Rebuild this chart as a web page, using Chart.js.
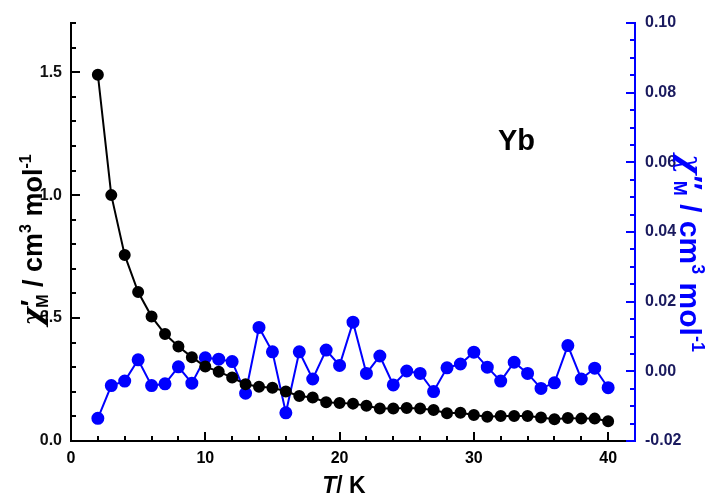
<!DOCTYPE html>
<html>
<head>
<meta charset="utf-8">
<script src="https://cdn.jsdelivr.net/npm/chart.js@4.4.0/dist/chart.umd.min.js"></script>
<style>
  body { margin: 0; background: #fff; }
  #wrap { width: 709px; height: 495px; }
</style>
</head>
<body>
<div id="wrap"><canvas id="chi-chart" width="709" height="495"></canvas></div>
<script>
// Temperaturas (K)
const temps = [2, 3, 4, 5, 6, 7, 8, 9, 10, 11, 12, 13, 14, 15, 16, 17, 18, 19, 20, 21,
               22, 23, 24, 25, 26, 27, 28, 29, 30, 31, 32, 33, 34, 35, 36, 37, 38, 39, 40];

// chi' (eixo esquerdo)
const chiReal = [1.49, 1.00, 0.756, 0.606, 0.506, 0.435, 0.384, 0.341, 0.303, 0.282,
                 0.258, 0.231, 0.221, 0.217, 0.201, 0.183, 0.177, 0.158, 0.155, 0.152,
                 0.143, 0.132, 0.132, 0.134, 0.132, 0.126, 0.113, 0.115, 0.106, 0.099,
                 0.102, 0.102, 0.102, 0.096, 0.088, 0.094, 0.091, 0.091, 0.080];

// chi'' (eixo direito)
const chiImag = [-0.0135, -0.0041, -0.0028, 0.0033, -0.0041, -0.0036, 0.0013, -0.0034, 0.0039, 0.0035,
                 0.0028, -0.0063, 0.0126, 0.0056, -0.0119, 0.0056, -0.0022, 0.0061, 0.0017, 0.0141,
                 -0.0006, 0.0044, -0.0039, 0.0001, -0.0006, -0.0058, 0.0010, 0.0021, 0.0055, 0.0012,
                 -0.0028, 0.0026, -0.0006, -0.0049, -0.0033, 0.0074, -0.0022, 0.0009, -0.0047];

// Ticks
const xTicks = [0, 10, 20, 30, 40];
const yTicks = [0.0, 0.5, 1.0, 1.5];
const y1Ticks = [-0.02, 0.00, 0.02, 0.04, 0.06, 0.08, 0.10];

const BLUE = '#0000ff';
const SANS = '"Liberation Sans", Arial, sans-serif';
const SERIF = '"DejaVu Serif", "Liberation Serif", serif';

function drawRich(ctx, runs, cx, cy, angle, color) {
    ctx.save();
    ctx.translate(cx, cy);
    ctx.rotate(angle);
    ctx.fillStyle = color;
    ctx.textBaseline = 'alphabetic';
    ctx.textAlign = 'left';
    var total = 0;
    runs.forEach(function (r) {
        ctx.font = r.font;
        r.w = ctx.measureText(r.text).width + (r.kern || 0);
        total += r.w;
    });
    var pos = -total / 2;
    runs.forEach(function (r) {
        ctx.font = r.font;
        ctx.fillText(r.text, pos + (r.kern || 0), r.dy || 0);
        pos += r.w;
    });
    ctx.restore();
}

function titleRuns(prime, size) {
    var sub = Math.round(size * 0.6);
    return [
        { text: 'χ', font: 'italic bold ' + (size + 1) + 'px ' + SERIF },
        { text: prime, font: 'bold ' + size + 'px ' + SANS, dy: -2, kern: 1 },
        { text: 'M', font: 'bold ' + sub + 'px ' + SANS, dy: 6, kern: -Math.round(size * 0.3) },
        { text: ' / cm', font: 'bold ' + size + 'px ' + SANS },
        { text: '3', font: 'bold ' + sub + 'px ' + SANS, dy: -Math.round(size * 0.4) },
        { text: ' mol', font: 'bold ' + size + 'px ' + SANS },
        { text: '-1', font: 'bold ' + sub + 'px ' + SANS, dy: -Math.round(size * 0.4) }
    ];
}

// Ticks internos, títulos e rótulo
const decor = {
    id: 'decor',
    afterDraw(chart) {
        const ctx = chart.ctx;
        const sx = chart.scales.x, sy = chart.scales.y, sy1 = chart.scales.y1;
        const area = chart.chartArea;
        ctx.save();
        ctx.lineWidth = 2;

        ctx.strokeStyle = '#000';
        for (var i = 0; i <= 20; i++) {
            var px = Math.round(sx.getPixelForValue(i * 2));
            var len = (i % 5 === 0) ? 9 : 5;
            ctx.beginPath();
            ctx.moveTo(px, area.bottom);
            ctx.lineTo(px, area.bottom - len);
            ctx.stroke();
        }
        for (var j = 0; j <= 17; j++) {
            var py = Math.round(sy.getPixelForValue(j / 10));
            var l2 = (j % 5 === 0) ? 9 : 5;
            ctx.beginPath();
            ctx.moveTo(area.left, py);
            ctx.lineTo(area.left + l2, py);
            ctx.stroke();
        }
        ctx.strokeStyle = BLUE;
        for (var k = 0; k <= 24; k++) {
            var py1 = Math.round(sy1.getPixelForValue(-0.02 + k * 0.005));
            var l3 = (k % 4 === 0) ? 9 : 5;
            ctx.beginPath();
            ctx.moveTo(area.right, py1);
            ctx.lineTo(area.right - l3, py1);
            ctx.stroke();
        }
        ctx.restore();

        drawRich(ctx, titleRuns('′', 27), 42, 240, -Math.PI / 2, '#000');
        drawRich(ctx, titleRuns('′′', 30), 680, 253, Math.PI / 2, BLUE);
        drawRich(ctx, [
            { text: 'T', font: 'italic bold 23px ' + SANS },
            { text: '/ K', font: 'bold 23px ' + SANS }
        ], 344, 493, 0, '#000');

        ctx.save();
        ctx.fillStyle = '#000';
        ctx.font = 'bold 29px ' + SANS;
        ctx.textBaseline = 'alphabetic';
        ctx.fillText('Yb', 498, 150);
        ctx.restore();
    }
};

const ctxChart = document.getElementById('chi-chart');
new Chart(ctxChart, {
    type: 'scatter',
    data: {
        datasets: [{
            label: "chi'",
            data: temps.map(function (t, i) { return { x: t, y: chiReal[i] }; }),
            yAxisID: 'y',
            showLine: true,
            borderColor: '#000',
            backgroundColor: '#000',
            borderWidth: 2,
            pointRadius: 5,
            pointHoverRadius: 5
        }, {
            label: "chi''",
            data: temps.map(function (t, i) { return { x: t, y: chiImag[i] }; }),
            yAxisID: 'y1',
            showLine: true,
            borderColor: BLUE,
            backgroundColor: BLUE,
            borderWidth: 2,
            pointRadius: 5.5,
            pointHoverRadius: 5.5
        }]
    },
    options: {
        responsive: false,
        animation: false,
        devicePixelRatio: 1,
        layout: { padding: { top: 23, left: 0, right: 0, bottom: 0 } },
        plugins: { legend: { display: false }, tooltip: { enabled: false } },
        scales: {
            x: {
                type: 'linear',
                min: 0, max: 42,
                afterFit: function (s) { s.height = 54; },
                afterBuildTicks: function (s) { s.ticks = xTicks.map(function (v) { return { value: v }; }); },
                grid: { display: false, drawTicks: false },
                border: { display: true, color: '#000', width: 2 },
                ticks: {
                    padding: 8,
                    color: '#000',
                    font: { family: SANS, weight: 'bold', size: 16 },
                    maxRotation: 0,
                    callback: function (v) { return v; }
                }
            },
            y: {
                type: 'linear',
                position: 'left',
                min: 0, max: 1.7,
                afterFit: function (s) { s.width = 71; },
                afterBuildTicks: function (s) { s.ticks = yTicks.map(function (v) { return { value: v }; }); },
                grid: { display: false, drawTicks: false },
                border: { display: true, color: '#000', width: 2 },
                ticks: {
                    padding: 9,
                    color: '#111',
                    font: { family: SANS, weight: 'bold', size: 16 },
                    callback: function (v) { return Number(v).toFixed(1); }
                }
            },
            y1: {
                type: 'linear',
                position: 'right',
                min: -0.02, max: 0.10,
                afterFit: function (s) { s.width = 74; },
                afterBuildTicks: function (s) { s.ticks = y1Ticks.map(function (v) { return { value: v }; }); },
                grid: { display: false, drawTicks: false },
                border: { display: true, color: BLUE, width: 2 },
                ticks: {
                    padding: 10,
                    color: '#1a1a5e',
                    font: { family: SANS, weight: 'bold', size: 16 },
                    callback: function (v) { return Number(v).toFixed(2); }
                }
            }
        }
    },
    plugins: [decor]
});
</script>
</body>
</html>
